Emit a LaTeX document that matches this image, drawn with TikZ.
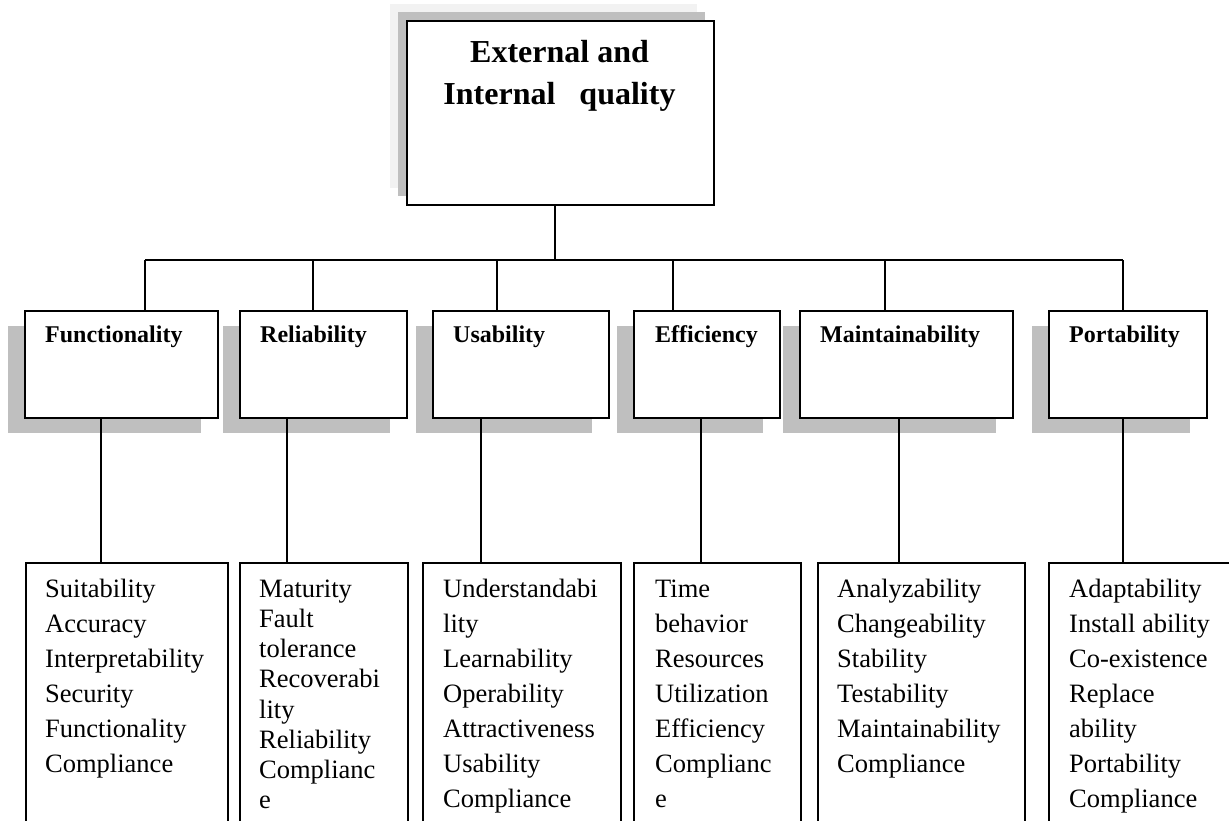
\documentclass[tikz,border=0pt]{standalone}
\usepackage{fontspec}
\setmainfont{Liberation Serif}
\definecolor{shadeA}{HTML}{BFBFBF}
\definecolor{shadeB}{HTML}{F2F2F2}
\tikzset{
  boxnode/.style={draw=black, line width=1.6pt, fill=white, inner sep=0pt, anchor=north west},
  conn/.style={draw=black, line width=1.6pt},
  midtext/.style={inner sep=0pt, anchor=base west, font=\fontsize{24}{30}\selectfont\bfseries},
  listtext/.style={inner sep=0pt, anchor=north west, align=left, font=\fontsize{26.5}{35}\selectfont},
  listtight/.style={inner sep=0pt, anchor=north west, align=left, font=\fontsize{26.5}{30.2}\selectfont},
}
\begin{document}
\begin{tikzpicture}[x=1pt,y=-1pt]
\useasboundingbox (0,0) rectangle (1229,820);
\fill[white] (0,0) rectangle (1229,820);
\clip (0,0) rectangle (1229,820);

% top box with layered shadow
\fill[shadeB] (390,4) rectangle (697,188);
\fill[shadeA] (398,12) rectangle (705,196);
\node[boxnode, minimum width=307, minimum height=184] (top) at (406,20) {};
\node[inner sep=0pt, anchor=north, align=center, font=\fontsize{32}{42}\selectfont\bfseries] (toptext) at (559.5,32.6)
  {\strut External and\\Internal\hspace{16pt} quality};

% middle shadows
\fill[shadeA] (8,326) rectangle ++(193,107);
\fill[shadeA] (223,326) rectangle ++(167,107);
\fill[shadeA] (416,326) rectangle ++(176,107);
\fill[shadeA] (617,326) rectangle ++(146,107);
\fill[shadeA] (783,326) rectangle ++(213,107);
\fill[shadeA] (1032,326) rectangle ++(158,107);

% middle boxes
\node[boxnode, minimum width=193, minimum height=107] (m1) at (24,310) {};
\node[boxnode, minimum width=167, minimum height=107] (m2) at (239,310) {};
\node[boxnode, minimum width=176, minimum height=107] (m3) at (432,310) {};
\node[boxnode, minimum width=146, minimum height=107] (m4) at (633,310) {};
\node[boxnode, minimum width=213, minimum height=107] (m5) at (799,310) {};
\node[boxnode, minimum width=158, minimum height=107] (m6) at (1048,310) {};

\node[midtext] (m1t) at (45,342) {Functionality};
\node[midtext] (m2t) at (260,342) {Reliability};
\node[midtext] (m3t) at (453,342) {Usability};
\node[midtext] (m4t) at (655,342) {Efficiency};
\node[midtext] (m5t) at (820,342) {Maintainability};
\node[midtext] (m6t) at (1069,342) {Portability};

% bottom boxes (open at the bottom, extend past the page)
\node[boxnode, minimum width=202, minimum height=300] (b1) at (25,562) {};
\node[boxnode, minimum width=168, minimum height=300] (b2) at (239,562) {};
\node[boxnode, minimum width=198, minimum height=300] (b3) at (422,562) {};
\node[boxnode, minimum width=167, minimum height=300] (b4) at (633,562) {};
\node[boxnode, minimum width=207, minimum height=300] (b5) at (817,562) {};
\node[boxnode, minimum width=200, minimum height=300] (b6) at (1048,562) {};

\node[listtext] (b1t) at (45,572.5) {\strut Suitability\\Accuracy\\Interpretability\\Security\\Functionality\\Compliance};
\node[listtight] (b2t) at (259,575.9) {\strut Maturity\\Fault\\tolerance\\Recoverabi\\lity\\Reliability\\Complianc\\e};
\node[listtext] (b3t) at (443,572.5) {\strut Understandabi\\lity\\Learnability\\Operability\\Attractiveness\\Usability\\Compliance};
\node[listtext] (b4t) at (655,572.5) {\strut Time\\behavior\\Resources\\Utilization\\Efficiency\\Complianc\\e};
\node[listtext] (b5t) at (837,572.5) {\strut Analyzability\\Changeability\\Stability\\Testability\\Maintainability\\Compliance};
\node[listtext] (b6t) at (1069,572.5) {\strut Adaptability\\Install ability\\Co-existence\\Replace\\ability\\Portability\\Compliance};

% connectors
\coordinate (j0) at (555,260);
\coordinate (t1) at (145,260);
\coordinate (t2) at (313,260);
\coordinate (t3) at (497,260);
\coordinate (t4) at (673,260);
\coordinate (t5) at (885,260);
\coordinate (t6) at (1123,260);
\draw[conn] (j0 |- top.south) -- (j0);
\draw[conn] (t1) -- (t6);
\draw[conn] (t1) -- (t1 |- m1.north);
\draw[conn] (t2) -- (t2 |- m2.north);
\draw[conn] (t3) -- (t3 |- m3.north);
\draw[conn] (t4) -- (t4 |- m4.north);
\draw[conn] (t5) -- (t5 |- m5.north);
\draw[conn] (t6) -- (t6 |- m6.north);

\coordinate (d1) at (101,0);
\coordinate (d2) at (287,0);
\coordinate (d3) at (481,0);
\coordinate (d4) at (701,0);
\coordinate (d5) at (899,0);
\coordinate (d6) at (1123,0);
\draw[conn] (d1 |- m1.south) -- (d1 |- b1.north);
\draw[conn] (d2 |- m2.south) -- (d2 |- b2.north);
\draw[conn] (d3 |- m3.south) -- (d3 |- b3.north);
\draw[conn] (d4 |- m4.south) -- (d4 |- b4.north);
\draw[conn] (d5 |- m5.south) -- (d5 |- b5.north);
\draw[conn] (d6 |- m6.south) -- (d6 |- b6.north);
\end{tikzpicture}
\end{document}
